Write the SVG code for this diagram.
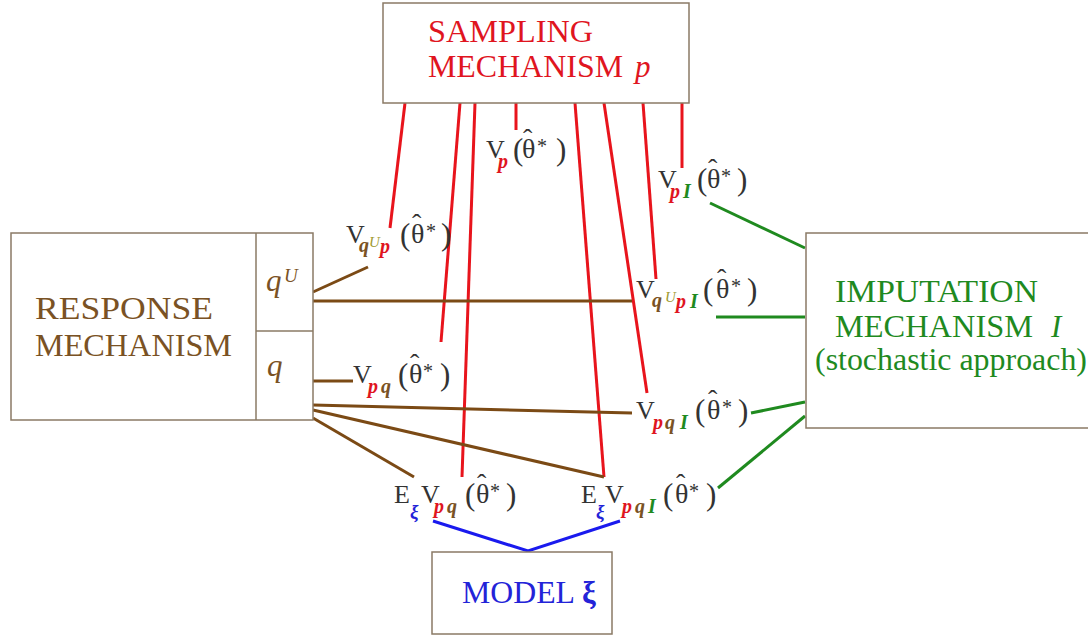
<svg xmlns="http://www.w3.org/2000/svg" width="1088" height="635" viewBox="0 0 1088 635" font-family="Liberation Serif, Times New Roman, serif">
<style>
.box{fill:#fff;stroke:#8a7a65;stroke-width:1.5}
.t{font-family:'Liberation Serif',serif;font-size:31px}
.lab{font-family:'Liberation Serif',serif;fill:#333;font-size:26px}
.s{font-size:20px;font-weight:bold;font-style:italic}
.u{font-size:15px;font-style:italic;fill:#a09a30}
.par{font-size:31px}
.th{font-size:28px}
.st{font-size:20px}
.hat{font-size:28px}
.xi{font-size:19px;font-weight:bold;font-style:italic;fill:#2323d8}
.red{fill:#e0151f}
.brn{fill:#7a5224}
.grn{fill:#1f8a1f}
.blu{fill:#2323d8}
.lr{stroke:#e8141c;stroke-width:3;fill:none}
.lb{stroke:#7b4a15;stroke-width:3;fill:none}
.lg{stroke:#1f8a1f;stroke-width:3;fill:none}
.lu{stroke:#1a1aee;stroke-width:3;fill:none}
</style>
<rect width="1088" height="635" fill="#fff"/>
<g id="connectors">
<line class="lr" x1="405" y1="103" x2="390" y2="228"/>
<line class="lr" x1="460" y1="103" x2="441" y2="342"/>
<line class="lr" x1="475" y1="103" x2="462" y2="477"/>
<line class="lr" x1="516" y1="103" x2="516" y2="130"/>
<line class="lr" x1="575" y1="103" x2="604" y2="477"/>
<line class="lr" x1="604" y1="103" x2="647" y2="393"/>
<line class="lr" x1="643" y1="103" x2="656" y2="279"/>
<line class="lr" x1="682" y1="103" x2="682" y2="168"/>
<line class="lb" x1="313" y1="292" x2="368" y2="267"/>
<line class="lb" x1="313" y1="301" x2="632" y2="301"/>
<line class="lb" x1="313" y1="381" x2="353" y2="381"/>
<line class="lb" x1="313" y1="405" x2="632" y2="413"/>
<line class="lb" x1="313" y1="410" x2="604" y2="477"/>
<line class="lb" x1="313" y1="418" x2="414" y2="477"/>
<line class="lg" x1="710" y1="203" x2="805" y2="248"/>
<line class="lg" x1="716" y1="317" x2="805" y2="317"/>
<line class="lg" x1="751" y1="413" x2="805" y2="402"/>
<line class="lg" x1="718" y1="488" x2="805" y2="416"/>
<polyline class="lu" points="433,521 528,551 620,521"/>
</g>
<g id="sampling">
<rect class="box" x="383" y="3" width="306" height="100"/>
<text class="t red" x="428" y="42" textLength="165" lengthAdjust="spacingAndGlyphs">SAMPLING</text>
<text class="t red" x="428" y="77"><tspan textLength="195" lengthAdjust="spacingAndGlyphs">MECHANISM</tspan><tspan x="635" font-style="italic">p</tspan></text>
</g>
<g id="response">
<rect class="box" x="11" y="233" width="302" height="187"/>
<line class="box" x1="256" y1="233" x2="256" y2="420"/>
<line class="box" x1="256" y1="331" x2="313" y2="331"/>
<text class="t brn" x="35" y="319" textLength="178" lengthAdjust="spacingAndGlyphs">RESPONSE</text>
<text class="t brn" x="35" y="356" textLength="197" lengthAdjust="spacingAndGlyphs">MECHANISM</text>
<text class="t brn" x="266" y="291" font-style="italic" font-size="28">q<tspan x="284" y="282" font-size="19">U</tspan></text>
<text class="t brn" x="267" y="376" font-style="italic" font-size="28">q</text>
</g>
<g id="imputation">
<rect class="box" x="806" y="233" width="290" height="195"/>
<text class="t grn" x="835" y="302" textLength="203" lengthAdjust="spacingAndGlyphs">IMPUTATION</text>
<text class="t grn" x="835" y="337"><tspan textLength="198" lengthAdjust="spacingAndGlyphs">MECHANISM</tspan><tspan x="1051" font-style="italic">I</tspan></text>
<text class="t grn" x="815" y="370" textLength="272" lengthAdjust="spacingAndGlyphs">(stochastic approach)</text>
</g>
<g id="model">
<rect class="box" x="432" y="552" width="180" height="82"/>
<text class="t blu" x="462" y="603"><tspan textLength="113" lengthAdjust="spacingAndGlyphs">MODEL</tspan><tspan x="582" font-weight="bold">ξ</tspan></text>
</g>
<g id="label-Vp">
<text class="lab"><tspan x="486" y="158">V</tspan><tspan class="s red" x="498" y="168">p</tspan><tspan class="par" x="513" y="160">(</tspan><tspan class="th" x="522" y="158">θ</tspan><tspan class="hat" x="523" y="148">ˆ</tspan><tspan class="st" x="537" y="153">*</tspan><tspan class="par" x="556" y="160">)</tspan></text>
</g>
<g id="label-VpI">
<text class="lab"><tspan x="658" y="188">V</tspan><tspan class="s red" x="670" y="198">p</tspan><tspan class="s grn" x="683" y="198">I</tspan><tspan class="par" x="697" y="190">(</tspan><tspan class="th" x="707" y="188">θ</tspan><tspan class="hat" x="708" y="178">ˆ</tspan><tspan class="st" x="721" y="183">*</tspan><tspan class="par" x="737" y="190">)</tspan></text>
</g>
<g id="label-VqUp">
<text class="lab"><tspan x="346" y="243">V</tspan><tspan class="s brn" x="359" y="252">q</tspan><tspan class="u" x="369" y="247">U</tspan><tspan class="s red" x="380" y="253">p</tspan><tspan class="par" x="400" y="245">(</tspan><tspan class="th" x="411" y="243">θ</tspan><tspan class="hat" x="412" y="233">ˆ</tspan><tspan class="st" x="426" y="238">*</tspan><tspan class="par" x="441" y="245">)</tspan></text>
</g>
<g id="label-VqUpI">
<text class="lab"><tspan x="636" y="298">V</tspan><tspan class="s brn" x="652" y="307">q</tspan><tspan class="u" x="665" y="302">U</tspan><tspan class="s red" x="676" y="308">p</tspan><tspan class="s grn" x="690" y="308">I</tspan><tspan class="par" x="703" y="300">(</tspan><tspan class="th" x="716" y="298">θ</tspan><tspan class="hat" x="717" y="288">ˆ</tspan><tspan class="st" x="731" y="293">*</tspan><tspan class="par" x="747" y="300">)</tspan></text>
</g>
<g id="label-Vpq">
<text class="lab"><tspan x="353" y="383">V</tspan><tspan class="s red" x="368" y="393">p</tspan><tspan class="s brn" x="381" y="393">q</tspan><tspan class="par" x="398" y="385">(</tspan><tspan class="th" x="409" y="383">θ</tspan><tspan class="hat" x="410" y="373">ˆ</tspan><tspan class="st" x="423" y="378">*</tspan><tspan class="par" x="440" y="385">)</tspan></text>
</g>
<g id="label-VpqI">
<text class="lab"><tspan x="636" y="419">V</tspan><tspan class="s red" x="653" y="429">p</tspan><tspan class="s brn" x="665" y="429">q</tspan><tspan class="s grn" x="680" y="429">I</tspan><tspan class="par" x="695" y="421">(</tspan><tspan class="th" x="707" y="419">θ</tspan><tspan class="hat" x="708" y="409">ˆ</tspan><tspan class="st" x="722" y="414">*</tspan><tspan class="par" x="738" y="421">)</tspan></text>
</g>
<g id="label-EVpq">
<text class="lab"><tspan x="394" y="503">E</tspan><tspan class="xi" x="410" y="518">ξ</tspan><tspan x="421" y="503">V</tspan><tspan class="s red" x="434" y="513">p</tspan><tspan class="s brn" x="447" y="513">q</tspan><tspan class="par" x="465" y="505">(</tspan><tspan class="th" x="476" y="503">θ</tspan><tspan class="hat" x="477" y="493">ˆ</tspan><tspan class="st" x="490" y="498">*</tspan><tspan class="par" x="506" y="505">)</tspan></text>
</g>
<g id="label-EVpqI">
<text class="lab"><tspan x="581" y="503">E</tspan><tspan class="xi" x="596" y="518">ξ</tspan><tspan x="605" y="503">V</tspan><tspan class="s red" x="622" y="513">p</tspan><tspan class="s brn" x="635" y="513">q</tspan><tspan class="s grn" x="648" y="513">I</tspan><tspan class="par" x="663" y="505">(</tspan><tspan class="th" x="675" y="503">θ</tspan><tspan class="hat" x="676" y="493">ˆ</tspan><tspan class="st" x="689" y="498">*</tspan><tspan class="par" x="706" y="505">)</tspan></text>
</g>
</svg>
